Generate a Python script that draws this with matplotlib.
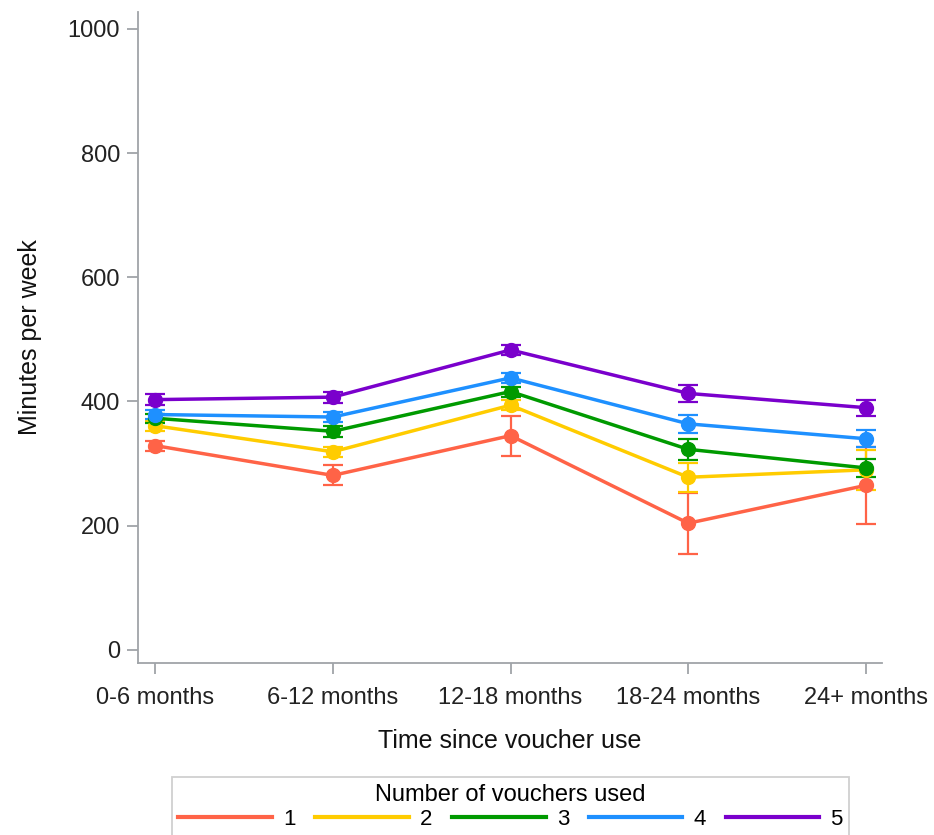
import numpy as np
import matplotlib.pyplot as plt

plt.rcParams['font.family'] = ['Liberation Sans', 'DejaVu Sans']

# time periods and mean minutes per week with error half-widths, by number of vouchers used
periods = ['0-6 months', '6-12 months', '12-18 months', '18-24 months', '24+ months']
groups = ['1', '2', '3', '4', '5']
colors = ['#FF6347', '#FFCC00', '#009A00', '#1E90FF', '#7A00CC']

v1 = [329, 281, 345, 204, 265]
v2 = [361, 319, 394, 278, 290]
v3 = [373, 352, 416, 323, 293]
v4 = [379, 375, 438, 364, 340]
v5 = [403, 407, 483, 413, 390]

e1 = [8, 16, 32, 49, 62]
e2 = [8, 8, 8, 23, 32]
e3 = [7, 9, 8, 17, 15]
e4 = [7, 8, 8, 14, 14]
e5 = [9, 9, 8, 14, 13]

means = [v1, v2, v3, v4, v5]
errs = [e1, e2, e3, e4, e5]

fig = plt.figure(figsize=(9.34, 8.35), dpi=100)
ax = fig.add_axes([0.1478, 0.2060, 0.7965, 0.7796])

x = np.arange(len(periods))
for g, m, e, c in zip(groups, means, errs, colors):
    ax.errorbar(x, m, yerr=e, fmt='none', ecolor=c, elinewidth=1.6,
                capsize=7.5, capthick=1.6, zorder=2)
    ax.plot(x, m, color=c, lw=2.5, marker='o', markersize=10,
            label=g, zorder=3)

ax.set_xlim(-0.096, 4.09)
ax.set_ylim(-21, 1027)
ax.set_xticks(x)
ax.set_xticklabels(periods)
ax.set_yticks([0, 200, 400, 600, 800, 1000])

for s in ['top', 'right']:
    ax.spines[s].set_visible(False)
for s in ['left', 'bottom']:
    ax.spines[s].set_color('#A0A4A8')
    ax.spines[s].set_linewidth(1.3)
ax.tick_params(colors='#A0A4A8', labelcolor='#222222', labelsize=17,
               length=8, width=1.3, pad=5)
ax.tick_params(axis='x', pad=9)

ax.set_ylabel('Minutes per week', fontsize=18, color='#111111', labelpad=18)
ax.set_xlabel('Time since voucher use', fontsize=18, color='#111111', labelpad=15)

leg_lines = [plt.Line2D([0], [0], color=c, lw=3) for c in colors]
leg = fig.legend(leg_lines, groups, title='Number of vouchers used',
                 loc='upper center', bbox_to_anchor=(0.5466, 1 - 777 / 835),
                 borderaxespad=0, ncol=5, fontsize=16, title_fontsize=17,
                 handlelength=4.2, handletextpad=0.5, columnspacing=0.9,
                 borderpad=0.3, labelspacing=0.15, fancybox=False,
                 edgecolor='#D0D0D0', framealpha=1)
leg.get_frame().set_linewidth(1.3)

fig.savefig('out.png', dpi=100)
